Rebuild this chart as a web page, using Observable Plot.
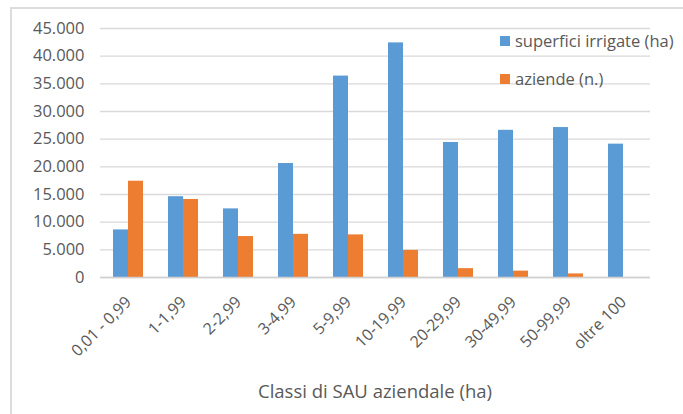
<!DOCTYPE html>
<html><head><meta charset="utf-8">
<script src="https://cdn.jsdelivr.net/npm/d3@7"></script>
<script src="https://cdn.jsdelivr.net/npm/@observablehq/plot@0.6"></script>
<style>
body{margin:0;background:#fff;font-family:"Open Sans",sans-serif;}
#wrap{position:relative;width:683px;height:414px;overflow:hidden;background:#fff;}
#frame{position:absolute;left:10px;top:7px;width:700px;height:420px;border-left:2px solid #dcdcdc;border-top:2px solid #dcdcdc;}
#chart{position:absolute;left:0;top:0;}
.leg{position:absolute;left:500px;font-size:16.5px;line-height:20px;color:#595959;display:flex;align-items:center;white-space:nowrap;}
.sw{width:10px;height:10px;margin-right:5px;}
#xtitle{position:absolute;left:100px;width:550px;top:379px;text-align:center;font-size:18.5px;line-height:24px;color:#595959;}
</style></head>
<body>
<div id="wrap"><div id="frame"></div><div id="chart"></div><div id="legend"></div><div id="xtitle"></div></div>
<script>
const categories = ["0,01 - 0,99","1-1,99","2-2,99","3-4,99","5-9,99","10-19,99","20-29,99","30-49,99","50-99,99","oltre 100"];
const superfici = [8600,14600,12400,20600,36400,42400,24400,26600,27100,24100];
const aziende = [17400,14100,7400,7800,7700,4900,1600,1150,650,0];
const seriesNames = ["superfici irrigate (ha)","aziende (n.)"];
const seriesColors = ["#5b9bd5","#ed7d31"];
const yTicks = [0,5000,10000,15000,20000,25000,30000,35000,40000,45000];
const xTitle = "Classi di SAU aziendale (ha)";

const W = 683, H = 414, mL = 100, mR = 33, mT = 28, mB = 137;
const padIn = 25/55, padOut = padIn/2;
const step = (W - mL - mR) / (categories.length - padIn + 2*padOut);
const half = step*(1-padIn)/2;

const rows1 = categories.map((c,i)=>({cat:c, value:superfici[i], series:seriesNames[0]}));
const rows2 = categories.map((c,i)=>({cat:c, value:aziende[i], series:seriesNames[1]}));
const loc = d3.formatLocale({decimal:",", thousands:".", grouping:[3], currency:["","€"]});
const fmt = loc.format(",d");

const chart = Plot.plot({
  width: W, height: H,
  marginLeft: mL, marginRight: mR, marginTop: mT, marginBottom: mB,
  style: {fontFamily: "Open Sans, sans-serif", fontSize: "16px", color: "#595959", background: "transparent", overflow: "visible"},
  x: {domain: categories, paddingInner: padIn, paddingOuter: padOut, align: 0.5},
  y: {domain: [0, 45000]},
  color: {domain: seriesNames, range: seriesColors},
  marks: [
    Plot.ruleY(yTicks, {stroke: "#d9d9d9", strokeWidth: 1.3}),
    Plot.barY(rows1, {x: "cat", y: "value", fill: "series", insetLeft: 0, insetRight: half}),
    Plot.barY(rows2, {x: "cat", y: "value", fill: "series", insetLeft: half, insetRight: 0}),
    Plot.ruleY([0], {stroke: "#d0d0d0", strokeWidth: 1.5}),
    Plot.axisY({ticks: yTicks, tickFormat: fmt, tickSize: 0, tickPadding: 16, label: null, fontSize: 16.5}),
    Plot.axisX({tickRotate: -45, tickSize: 0, tickPadding: 22, label: null, fontSize: 16})
  ]
});
document.getElementById("chart").appendChild(chart);

const leg = document.getElementById("legend");
seriesNames.forEach((n,i)=>{
  const d = document.createElement("div");
  d.className = "leg";
  d.style.top = (31 + i*38) + "px";
  d.innerHTML = `<span class="sw" style="background:${seriesColors[i]}"></span><span>${n}</span>`;
  leg.appendChild(d);
});
document.getElementById("xtitle").textContent = xTitle;
</script>
</body></html>
